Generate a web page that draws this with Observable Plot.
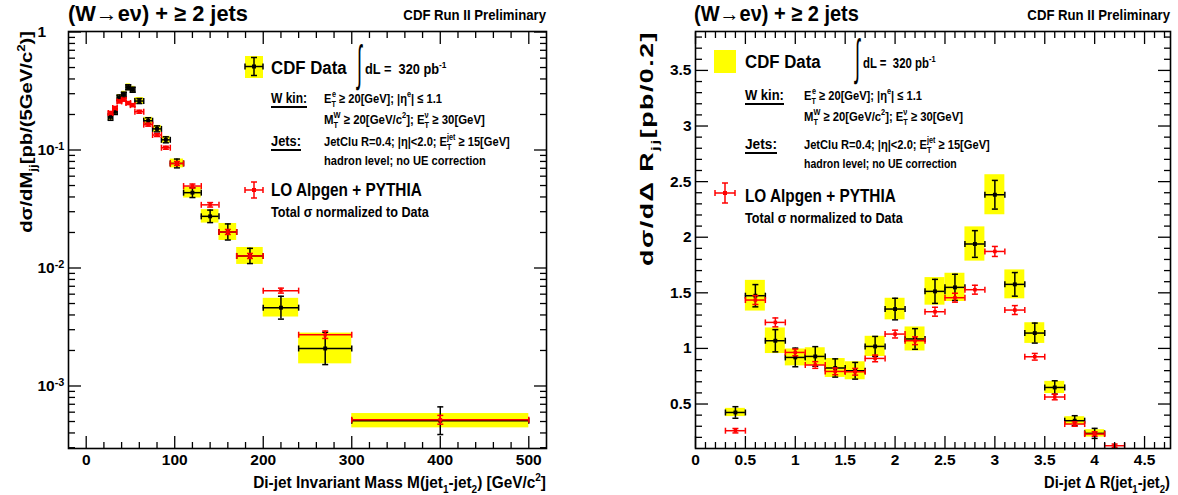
<!DOCTYPE html>
<html><head><meta charset="utf-8">
<script src="https://cdn.jsdelivr.net/npm/d3@7"></script>
<script src="https://cdn.jsdelivr.net/npm/@observablehq/plot@0.6"></script>
<style>
body{margin:0;background:#fff;}
#wrap{position:relative;width:1178px;height:495px;display:flex;background:#fff;}
svg text{font-family:"Liberation Sans",Arial,sans-serif;}
</style></head><body><div id="wrap"></div>
<script>
// ---------- Left panel: di-jet invariant mass ----------
const massLo   = [25,30,35,40,45,50,55,65,75,85,95,110,130,150,170,200,240,300];
const massHi   = [30,35,40,45,50,55,65,75,85,95,110,130,150,170,200,240,300,500];
const massData = [0.191,0.212,0.276,0.294,0.340,0.324,0.260,0.177,0.151,0.122,0.0769,0.0435,0.0274,0.0202,0.01265,0.00461,0.00208,0.000508];
const massStat = [0.07,0.06,0.06,0.05,0.05,0.05,0.05,0.06,0.06,0.06,0.09,0.10,0.13,0.17,0.16,0.25,0.37,0.31];
const massSys  = [0.07,0.07,0.07,0.07,0.07,0.07,0.07,0.07,0.07,0.07,0.09,0.11,0.14,0.18,0.18,0.20,0.35,0.15];
const massMC   = [0.206,0.227,0.258,0.267,0.250,0.240,0.211,0.164,0.134,0.1045,0.0769,0.0495,0.0343,0.0202,0.01265,0.00643,0.00272,0.000517];
const massMCErr= [0.03,0.03,0.03,0.03,0.03,0.03,0.03,0.03,0.03,0.03,0.04,0.04,0.045,0.05,0.05,0.05,0.075,0.09];
const massXTicks = [0,100,200,300,400,500];
const massYTicks = [0.001,0.01,0.1,1];

// ---------- Right panel: di-jet Delta R ----------
const drCenter = [0.4,0.6,0.8,1.0,1.2,1.4,1.6,1.8,2.0,2.2,2.4,2.6,2.8,3.0,3.2,3.4,3.6,3.8,4.0,4.2];
const drData   = [0.424,1.474,1.069,0.919,0.928,0.824,0.799,1.018,1.354,1.085,1.513,1.549,1.939,2.382,1.576,1.138,0.649,0.350,0.236];
const drStat   = [0.052,0.10,0.10,0.084,0.088,0.082,0.075,0.09,0.097,0.093,0.108,0.118,0.12,0.129,0.106,0.09,0.06,0.045,0.045];
const drSys    = [0.037,0.138,0.115,0.076,0.078,0.085,0.081,0.091,0.097,0.108,0.124,0.127,0.154,0.18,0.13,0.093,0.055,0.036,0.033];
const drMC     = [0.260,1.435,1.234,0.964,0.851,0.793,0.790,0.910,1.129,1.069,1.330,1.456,1.528,1.872,1.345,0.925,0.563,0.320,0.230,0.125];
const drMCErr  = [0.02,0.04,0.04,0.03,0.03,0.03,0.03,0.03,0.035,0.035,0.04,0.04,0.04,0.045,0.04,0.03,0.025,0.02,0.02,0.015];
const drBinWidth = 0.2;
const drXTicks = [0,0.5,1,1.5,2,2.5,3,3.5,4,4.5];
const drYTicks = [0.5,1,1.5,2,2.5,3,3.5];

// ---------- build rows ----------
const massRows = massData.map((v,i)=>({lo:massLo[i],hi:massHi[i],c:(massLo[i]+massHi[i])/2,v,
  eLo:v/(1+massStat[i]),eHi:v*(1+massStat[i]),sLo:v/(1+massSys[i]),sHi:v*(1+massSys[i])}));
const massMCRows = massMC.map((v,i)=>({lo:massLo[i],hi:massHi[i],c:(massLo[i]+massHi[i])/2,v,
  eLo:v/(1+massMCErr[i]),eHi:v*(1+massMCErr[i])}));
const drRows = drData.map((v,i)=>({lo:drCenter[i]-drBinWidth/2,hi:drCenter[i]+drBinWidth/2,c:drCenter[i],v,
  eLo:v-drStat[i],eHi:v+drStat[i],sLo:v-drSys[i],sHi:v+drSys[i]}));
const drMCRows = drMC.map((v,i)=>({lo:drCenter[i]-drBinWidth/2,hi:drCenter[i]+drBinWidth/2,c:drCenter[i],v,
  eLo:v-drMCErr[i],eHi:v+drMCErr[i]}));

const capV = {draw(c,s){const r=Math.sqrt(s/Math.PI);c.moveTo(0,-r);c.lineTo(0,r);}};
const capH = {draw(c,s){const r=Math.sqrt(s/Math.PI);c.moveTo(-r,0);c.lineTo(r,0);}};

function errMarks(rows,color,sw,r){
  const hc = rows.flatMap(d=>[{x:d.lo,y:d.v},{x:d.hi,y:d.v}]);
  const vc = rows.flatMap(d=>[{x:d.c,y:d.eLo},{x:d.c,y:d.eHi}]);
  return [
    Plot.ruleY(rows,{y:"v",x1:"lo",x2:"hi",stroke:color,strokeWidth:sw}),
    Plot.ruleX(rows,{x:"c",y1:"eLo",y2:"eHi",stroke:color,strokeWidth:sw}),
    Plot.dot(hc,{x:"x",y:"y",symbol:capV,r:3,stroke:color,strokeWidth:sw,fill:"none"}),
    Plot.dot(vc,{x:"x",y:"y",symbol:capH,r:3,stroke:color,strokeWidth:sw,fill:"none"}),
    Plot.dot(rows,{x:"c",y:"v",symbol:"square",r,fill:color,stroke:"none"})
  ];
}

function axesMarks(cfg){
  const tk = {fill:"none",label:null,strokeWidth:1.3};
  return [
    Plot.axisX(cfg.xMaj,{anchor:"bottom",tickSize:-12,...tk}),
    Plot.axisX(cfg.xMin,{anchor:"bottom",tickSize:-6,...tk}),
    Plot.axisX(cfg.xMaj,{anchor:"top",tickSize:-12,...tk}),
    Plot.axisX(cfg.xMin,{anchor:"top",tickSize:-6,...tk}),
    Plot.axisY(cfg.yMaj,{anchor:"left",tickSize:-13,...tk}),
    Plot.axisY(cfg.yMin,{anchor:"left",tickSize:-7,...tk}),
    Plot.axisY(cfg.yMaj,{anchor:"right",tickSize:-13,...tk}),
    Plot.axisY(cfg.yMin,{anchor:"right",tickSize:-7,...tk}),
    Plot.axisX(cfg.xMaj,{anchor:"bottom",tickSize:0,tickPadding:5,label:null,fontSize:15.5,fontWeight:"bold",tickFormat:d=>String(d)}),
    Plot.axisY(cfg.yMaj,{anchor:"left",tickSize:0,tickPadding:cfg.yPad,label:null,fontSize:15.5,fontWeight:"bold",
      textAnchor:cfg.yTextAnchor,tickFormat:cfg.yFmt})
  ];
}

function panel(cfg){
  return Plot.plot({
    width:589,height:495,marginLeft:cfg.ml,marginRight:cfg.mr,marginTop:31,marginBottom:47,
    x:{type:"linear",domain:cfg.xDomain},
    y:{type:cfg.yType,domain:cfg.yDomain},
    style:{fontFamily:"'Liberation Sans',Arial,sans-serif",background:"white",color:"black",overflow:"visible"},
    marks:[
      Plot.rect(cfg.rows,{x1:"lo",x2:"hi",y1:"sLo",y2:"sHi",fill:"#ffff00"}),
      ...errMarks(cfg.rows,"#000",1.5,2.2),
      ...errMarks(cfg.mc,"#ff0000",1.5,2),
      Plot.frame({stroke:"black",strokeWidth:1.6}),
      ...axesMarks(cfg)
    ]
  });
}

const massXMinor = d3.range(20,501,20).filter(d=>d%100!==0);
const massYMinor = [1e-4,1e-3,1e-2,1e-1].flatMap(b=>[2,3,4,5,6,7,8,9].map(k=>k*b)).filter(d=>d>2.96e-4&&d<1);
const drXMinor = d3.range(1,48).filter(k=>k%5!==0).map(k=>k/10);
const drYMinor = d3.range(2,39).filter(k=>k%5!==0).map(k=>k/10);

const left = panel({ml:68,mr:43,xDomain:[-20,520],yType:"log",yDomain:[2.953e-4,1.01],
  rows:massRows,mc:massMCRows,xMaj:massXTicks,xMin:massXMinor,yMaj:massYTicks,yMin:massYMinor,
  yPad:31,yTextAnchor:"start",yFmt:d=>d>=1?"1":"10^"+Math.round(Math.log10(d))});
const right = panel({ml:106,mr:8,xDomain:[0,4.76],yType:"linear",yDomain:[0.1,3.85],
  rows:drRows,mc:drMCRows,xMaj:drXTicks,xMin:drXMinor,yMaj:drYTicks,yMin:drYMinor,
  yPad:4,yTextAnchor:"end",yFmt:d=>String(d)});

const wrap = document.getElementById("wrap");
wrap.appendChild(left); wrap.appendChild(right);

// superscript exponents on the log axis labels
d3.select(left).selectAll("text").each(function(){
  const s = this.textContent;
  const m = /^10\^(-?\d+)$/.exec(s);
  if(m){ const t=d3.select(this); t.text("10"); t.append("tspan").attr("dy","-0.45em").attr("font-size","70%").text(m[1]); }
});

// ---------- overlay annotations ----------
const ov = d3.select(wrap).append("svg").attr("width",1178).attr("height",495)
  .style("position","absolute").style("left","0px").style("top","0px").style("overflow","visible");

function T(spec){
  let tr = `translate(${spec.x},${spec.y})`; if(spec.rot) tr += ` rotate(${spec.rot})`;
  const g = ov.append("g").attr("transform",tr);
  const t = g.append("text").attr("font-size",spec.fs).attr("text-anchor",spec.anchor||"start")
    .attr("font-weight",spec.weight||"bold").attr("fill","#000").style("white-space","pre");
  if(spec.font) t.attr("font-family",spec.font);
  if(spec.ls) t.attr("letter-spacing",spec.ls);
  const parts = typeof spec.parts==="string"?[spec.parts]:spec.parts;
  let cur=0, prev=null, leftover=0;
  for(const p0 of parts){
    const p = typeof p0==="string"?{t:p0}:p0;
    const ts = t.append("tspan").text(p.t);
    let target=0,size=spec.fs;
    if(p.sub){target=spec.fs*0.32;size=spec.fs*0.65;}
    if(p.sup){target=-spec.fs*0.42;size=spec.fs*0.65;}
    ts.attr("font-size",size);
    if(target-cur) ts.attr("dy",target-cur);
    let dx = 0;
    if(p.back && prev){ const pw=prev.node().getComputedTextLength(); dx=-pw;
      const sw=ts.node().getComputedTextLength(); leftover=Math.max(0,pw-sw); }
    else if(leftover){ dx=leftover; leftover=0; }
    if(dx) ts.attr("dx",dx);
    if(p.weight) ts.attr("font-weight",p.weight);
    cur=target; prev=ts;
  }
  if(spec.w){ const bb=t.node().getBBox(); t.attr("transform",`scale(${spec.w/bb.width},1)`); }
  return t;
}
function line(x1,y1,x2,y2,color,w){ov.append("line").attr("x1",x1).attr("y1",y1).attr("x2",x2).attr("y2",y2).attr("stroke",color).attr("stroke-width",w);}
function cross(cx,cy,hx,hy,color){
  line(cx-hx,cy,cx+hx,cy,color,1.5); line(cx,cy-hy,cx,cy+hy,color,1.5);
  line(cx-hx,cy-3,cx-hx,cy+3,color,1.5); line(cx+hx,cy-3,cx+hx,cy+3,color,1.5);
  line(cx-3,cy-hy,cx+3,cy-hy,color,1.5); line(cx-3,cy+hy,cx+3,cy+hy,color,1.5);
  ov.append("rect").attr("x",cx-2).attr("y",cy-2).attr("width",4).attr("height",4).attr("fill",color);
}

const title = "(W\u2192e\u03bd) + \u2265 2 jets";
function panelText(o){
  T({x:o.x0,y:21,parts:title,fs:22,w:o.titleW});
  T({x:o.x1,y:20,parts:"CDF Run II Preliminary",fs:14,anchor:"end",w:143});
}
panelText({x0:68,x1:546,titleW:180});
panelText({x0:694,x1:1170,titleW:165});

// axis titles
T({x:32,y:31,rot:-90,anchor:"end",fs:17,w:202,parts:["d\u03c3/dM",{t:"jj",sub:true},"[pb/(5GeV/c",{t:"2",sup:true},")]"]});
T({x:546,y:488,anchor:"end",fs:16,w:293,parts:["Di-jet Invariant Mass M(jet",{t:"1",sub:true},"-jet",{t:"2",sub:true},") [GeV/c",{t:"2",sup:true},"]"]});
T({x:653,y:31,rot:-90,anchor:"end",fs:18,ls:1,w:235,parts:["d\u03c3/d\u0394 R",{t:"jj",sub:true},"[pb/0.2]"]});
T({x:1170,y:488,anchor:"end",fs:16,w:126,parts:["Di-jet \u0394 R(jet",{t:"1",sub:true},"-jet",{t:"2",sub:true},")"]});

// legends
function legend(o){
  T({x:o.tx,y:o.y0,parts:"CDF Data",fs:19,w:76});
  T({x:o.ix,y:o.y0+6,parts:"\u222b",fs:49,weight:"normal",w:7});
  T({x:o.ix+8,y:o.y0,parts:["dL =\u00a0 320 pb",{t:"-1",sup:true}],fs:15,w:o.dlW});
  T({x:o.tx,y:o.yW,parts:"W kin:",fs:15,w:o.wkW}); line(o.tx,o.yW+4,o.tx+o.wkW,o.yW+4,"#000",2);
  T({x:o.cx,y:o.yW,fs:13.5,w:118,parts:["E",{t:"T",sub:true},{t:"e",sup:true,back:true}," \u2265 20[GeV]; |\u03b7",{t:"e",sup:true},"| \u2264 1.1"]});
  T({x:o.cx,y:o.yW+20.5,fs:13.5,w:o.mW,parts:["M",{t:"T",sub:true},{t:"W",sup:true,back:true}," \u2265 20[GeV/c",{t:"2",sup:true},"]; E",{t:"T",sub:true},{t:"\u03bd",sup:true,back:true}," \u2265 30[GeV]"]});
  T({x:o.tx,y:o.yJ,parts:"Jets:",fs:15,w:o.jW}); line(o.tx,o.yJ+4,o.tx+o.jW,o.yJ+4,"#000",2);
  T({x:o.cx,y:o.yJ,fs:13.5,w:186,parts:["JetClu R=0.4; |\u03b7|<2.0; E",{t:"T",sub:true},{t:"jet",sup:true,back:true}," \u2265 15[GeV]"]});
  T({x:o.cx,y:o.yJ+19,fs:13.5,w:o.hW,parts:"hadron level; no UE correction"});
  T({x:o.tx,y:o.yL,parts:"LO Alpgen + PYTHIA",fs:19,w:151});
  T({x:o.tx,y:o.yL+21,parts:"Total \u03c3 normalized to Data",fs:14,w:158});
}
// left legend symbols
ov.append("rect").attr("x",245).attr("y",56).attr("width",18).attr("height",22).attr("fill","#ffff00");
cross(254,66.5,9,9,"#000");
cross(254,190,9,8,"#ff0000");
legend({tx:271,ix:357,cx:324,y0:74,dlW:82,yW:103,wkW:36,mW:161,yJ:146,jW:30,hW:162,yL:196});
// right legend symbols
ov.append("rect").attr("x",714).attr("y",50).attr("width",22).attr("height",23).attr("fill","#ffff00");
cross(725,193,10,10,"#ff0000");
legend({tx:745,ix:855,cx:804,y0:68,dlW:73,yW:100,wkW:39,mW:159,yJ:149,jW:32,hW:153,yL:202});
</script></body></html>
